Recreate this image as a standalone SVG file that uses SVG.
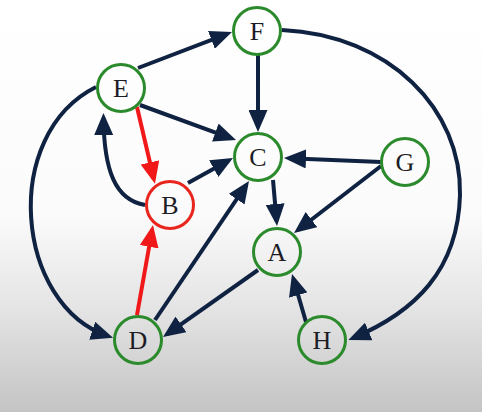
<svg xmlns="http://www.w3.org/2000/svg" width="482" height="412" viewBox="0 0 482 412">
<defs>
<linearGradient id="bg" x1="0" y1="0" x2="0" y2="1">
<stop offset="0" stop-color="#ffffff"/>
<stop offset="0.52" stop-color="#fbfbfb"/>
<stop offset="0.75" stop-color="#e4e4e4"/>
<stop offset="1" stop-color="#c4c4c4"/>
</linearGradient>
<marker id="ah" viewBox="0 0 22 19" refX="17" refY="9.5" markerWidth="22" markerHeight="19" markerUnits="userSpaceOnUse" orient="auto">
<path d="M0,0 L22,9.5 L0,19 z" fill="#0f2241"/>
</marker>
<marker id="ahr" viewBox="0 0 22 19" refX="17" refY="9.5" markerWidth="22" markerHeight="19" markerUnits="userSpaceOnUse" orient="auto">
<path d="M0,0 L22,9.5 L0,19 z" fill="#f01818"/>
</marker>
</defs>
<style>
.e{fill:none;stroke:#0f2241;stroke-width:4;marker-end:url(#ah)}
.r{fill:none;stroke:#f01818;stroke-width:4;marker-end:url(#ahr)}
.n{fill:none;stroke:#2b8a2b;stroke-width:3}
.nr{fill:none;stroke:#e8261e;stroke-width:3}
.t{font-family:"Liberation Serif","Times New Roman",serif;font-size:26px;fill:#1c1c24;text-anchor:middle}
</style>
<rect x="0" y="0" width="482" height="412" fill="url(#bg)"/>
<g id="connectors">
<path class="e" d="M138,68 L227.3,33.8"/>
<path class="e" d="M258,55 L258,127"/>
<path class="e" d="M140,105 L231.3,138.3"/>
<path class="e" d="M188,183 L228.6,160.4"/>
<path class="e" d="M155,320 L246.2,185.1"/>
<path class="e" d="M273,180 L276.6,221"/>
<path class="e" d="M381,162 L289,158.2"/>
<path class="e" d="M381,166 L298,230"/>
<path class="e" d="M306,322 L293.4,278.8"/>
<path class="e" d="M258,270 L167.1,334.1"/>
<path class="e" d="M145,205 C115,200 104,170 103.5,118"/>
<path class="e" d="M96,87 C0,135 15,305 108.3,336.2"/>
<path class="e" d="M282,30 C390,35 462,110 460,195 C458,270 415,312 353,338"/>
<path class="r" d="M137,107 L153.8,179"/>
<path class="r" d="M137,315 L152.1,230"/>
</g>
<g id="node-F"><circle class="n" cx="257" cy="31" r="23.5"/><text class="t" x="257" y="40">F</text></g>
<g id="node-E"><circle class="n" cx="121" cy="88" r="23.5"/><text class="t" x="121" y="97">E</text></g>
<g id="node-C"><circle class="n" cx="258" cy="157" r="23.5"/><text class="t" x="258" y="166">C</text></g>
<g id="node-G"><circle class="n" cx="405" cy="162" r="23.5"/><text class="t" x="405" y="171">G</text></g>
<g id="node-B"><circle class="nr" cx="170" cy="205" r="23.5"/><text class="t" x="170" y="214">B</text></g>
<g id="node-A"><circle class="n" cx="277" cy="252" r="23.5"/><text class="t" x="277" y="261">A</text></g>
<g id="node-D"><circle class="n" cx="138" cy="340" r="23.5"/><text class="t" x="138" y="349">D</text></g>
<g id="node-H"><circle class="n" cx="322" cy="340" r="23.5"/><text class="t" x="322" y="349">H</text></g>
</svg>
